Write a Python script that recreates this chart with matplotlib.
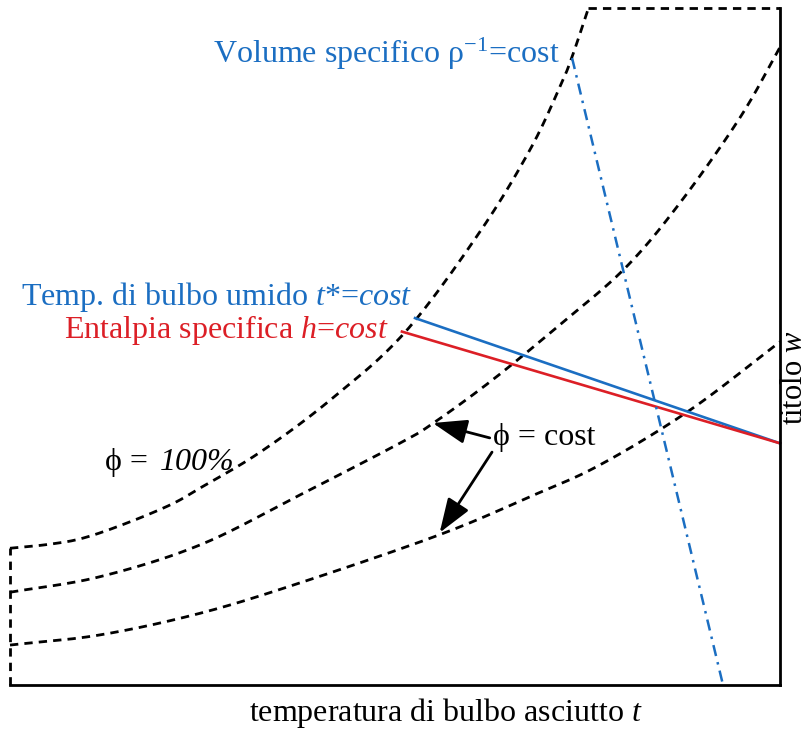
import matplotlib
matplotlib.use('Agg')
import numpy as np
from matplotlib import pyplot as plt

plt.rcParams['font.family'] = ['Liberation Serif', 'DejaVu Serif']
plt.rcParams['mathtext.fontset'] = 'custom'
plt.rcParams['mathtext.rm'] = 'Liberation Serif'
plt.rcParams['mathtext.it'] = 'Liberation Serif:italic'

# curve phi = 100% (saturation), t = dry bulb temp, w = humidity ratio (arbitrary 0..100 units)
sat_t = [0, 5.2, 9.5, 14.9, 20.8, 24.7, 32.5, 41.6, 51.3, 61.0, 67.5, 71.4, 73.0, 75.1]
sat_w = [20.2, 20.8, 21.7, 23.8, 26.6, 29.1, 34.4, 42.1, 52.1, 66.9, 79.0, 88.3, 92.8, 99.9]

# two curves phi = cost
phi2_t = [0, 11.7, 24.7, 37.7, 50.6, 55.0, 62.7, 71.4, 79.9, 87.0, 94.8, 100]
phi2_w = [13.7, 16.0, 20.7, 28.1, 35.7, 38.7, 45.1, 53.2, 61.6, 71.2, 83.8, 94.2]

phi3_t = [0, 11.7, 24.7, 37.7, 55.8, 67.5, 76.6, 88.3, 100]
phi3_w = [5.9, 7.4, 10.6, 15.1, 22.2, 27.8, 32.5, 40.6, 50.7]

# boundary pieces
top_t = [75.1, 100]
top_w = [100, 100]
left_t = [0, 0]
left_w = [0, 20.2]

# iso lines
wetbulb_t = [52.6, 100]
wetbulb_w = [54.2, 35.7]
enth_t = [50.9, 100]
enth_w = [52.2, 35.7]
vol_t = [73.0, 92.6]
vol_w = [92.6, 0]

BLUE = '#1b6ec2'
RED = '#dc1f26'


def smooth(xs, ys, n=20):
    """catmull-rom path through the read points, only for drawing"""
    p = np.column_stack([xs, ys]).astype(float)
    p = np.vstack([2 * p[0] - p[1], p, 2 * p[-1] - p[-2]])
    out = []
    s = np.linspace(0, 1, n, endpoint=False)[:, None]
    for i in range(1, len(p) - 2):
        p0, p1, p2, p3 = p[i - 1], p[i], p[i + 1], p[i + 2]
        out.append(0.5 * (2 * p1 + (-p0 + p2) * s + (2 * p0 - 5 * p1 + 4 * p2 - p3) * s ** 2
                          + (-p0 + 3 * p1 - 3 * p2 + p3) * s ** 3))
    out.append(p[-2][None, :])
    out = np.vstack(out)
    return out[:, 0], out[:, 1]


fig = plt.figure(figsize=(8.11, 7.29), dpi=100)
ax = fig.add_axes([10 / 811, 44 / 729, 770 / 811, 677 / 729])
ax.set_xlim(0, 100)
ax.set_ylim(0, 100)

dash = (0, (3, 2.2))
for xs, ys in [(sat_t, sat_w), (phi2_t, phi2_w), (phi3_t, phi3_w)]:
    sx, sy = smooth(xs, ys)
    ax.plot(sx, sy, color='black', lw=2.0, linestyle=dash, clip_on=False)
for xs, ys in [(top_t, top_w), (left_t, left_w)]:
    ax.plot(xs, ys, color='black', lw=2.0, linestyle=dash, clip_on=False)

ax.plot(wetbulb_t, wetbulb_w, color=BLUE, lw=1.9, clip_on=False)
ax.plot(enth_t, enth_w, color=RED, lw=1.9, clip_on=False)
ax.plot(vol_t, vol_w, color=BLUE, lw=1.8, linestyle=(0, (4.5, 2.5, 1, 2.5)), clip_on=False)

# spines
for s in ['top', 'left']:
    ax.spines[s].set_visible(False)
for s in ['bottom', 'right']:
    ax.spines[s].set_linewidth(2.0)
ax.set_xticks([])
ax.set_yticks([])

fs = 23
ax.text(71.4, 93.2, r'Volume specifico ρ$^{-1}$=cost', color=BLUE, fontsize=fs,
        ha='right', va='center')
ax.text(52.2, 57.3, r'Temp. di bulbo umido $t$*=$cost$', color=BLUE, fontsize=fs,
        ha='right', va='center')
ax.text(49.1, 52.4, r'Entalpia specifica $h$=$cost$', color=RED, fontsize=fs,
        ha='right', va='center')
ax.text(12.3, 32.9, 'ϕ =', color='black', fontsize=fs, ha='left', va='center')
ax.text(19.5, 32.9, '100%', color='black', fontsize=fs, fontstyle='italic',
        ha='left', va='center')
ax.text(62.7, 36.6, 'ϕ = cost', color='black', fontsize=fs, ha='left', va='center')
ax.text(101.9, 45.3, r'titolo $w$', color='black', fontsize=22, rotation=90,
        ha='center', va='center')
ax.text(56.6, -4.1, r'temperatura di bulbo asciutto $t$', color='black', fontsize=fs,
        ha='center', va='center')

arrow = dict(arrowstyle='-|>,head_length=0.7,head_width=0.25', color='black', lw=2,
             mutation_scale=30, shrinkA=0, shrinkB=0)
ax.annotate('', xy=(54.9, 38.7), xytext=(62.3, 36.5), arrowprops=arrow)
ax.annotate('', xy=(55.8, 22.5), xytext=(62.6, 34.4), arrowprops=arrow)

fig.savefig('out.png', dpi=100, facecolor='white')
